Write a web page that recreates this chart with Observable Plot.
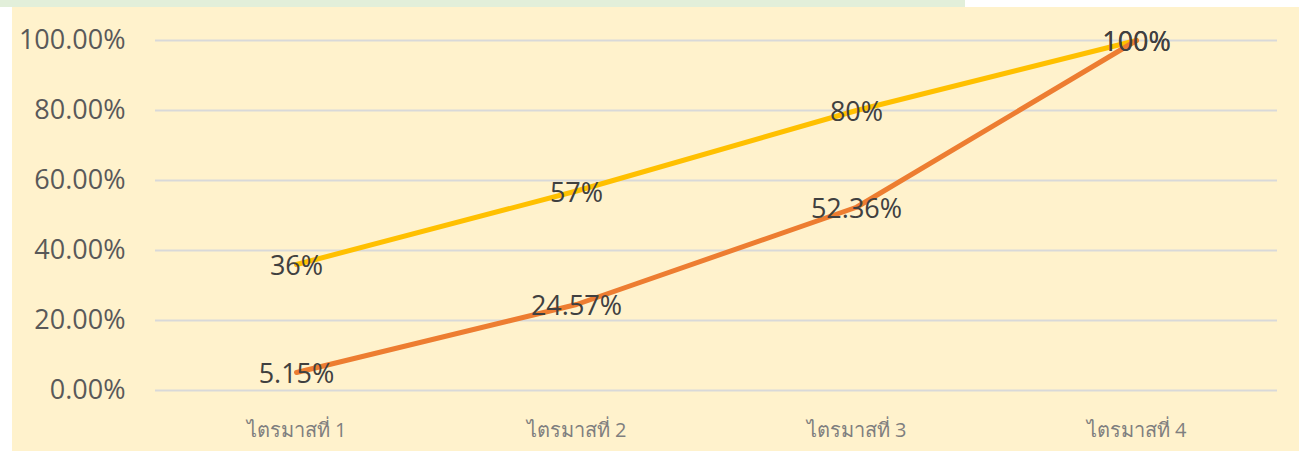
<!DOCTYPE html>
<html>
<head>
<meta charset="utf-8">
<script src="https://cdn.jsdelivr.net/npm/d3@7"></script>
<script src="https://cdn.jsdelivr.net/npm/@observablehq/plot@0.6"></script>
<style>
  html, body { margin: 0; padding: 0; background: #ffffff; width: 1299px; height: 451px; overflow: hidden; position: relative; }
  #strip { position: absolute; left: 0; top: 0; width: 965px; height: 7px; background: #E2EFDA; }
  #chart { position: absolute; left: 12px; top: 7px; }
  #chart svg { background: #FFF2CC; display: block; }
</style>
</head>
<body>
<div id="strip"></div>
<div id="chart"></div>
<script>
const quarters = ["ไตรมาสที่ 1", "ไตรมาสที่ 2", "ไตรมาสที่ 3", "ไตรมาสที่ 4"];
const planValues = [0.36, 0.57, 0.80, 1.00];
const planLabels = ["36%", "57%", "80%", "100%"];
const actualValues = [0.0515, 0.2457, 0.5236, 1.00];
const actualLabels = ["5.15%", "24.57%", "52.36%", "100%"];
const yTicks = [0, 0.2, 0.4, 0.6, 0.8, 1.0];

const plan = quarters.map((q, i) => ({q, v: planValues[i], label: planLabels[i]}));
const actual = quarters.map((q, i) => ({q, v: actualValues[i], label: actualLabels[i]}));

const chart = Plot.plot({
  width: 1287,
  height: 444,
  marginTop: 33,
  marginBottom: 61,
  marginLeft: 143,
  marginRight: 22,
  style: {background: "#FFF2CC", fontFamily: "'Open Sans', 'Noto Sans', 'DejaVu Sans', sans-serif"},
  x: {type: "point", domain: quarters, padding: 0.5, label: null},
  y: {domain: [0, 1], label: null},
  marks: [
    Plot.ruleY(yTicks, {stroke: "#D9D9D9", strokeWidth: 2}),
    Plot.axisY({ticks: yTicks, tickFormat: d3.format(".2%"), tickSize: 0, tickPadding: 30, fontSize: 27, fill: "#595959", label: null}),
    Plot.axisX({tickSize: 0, tickPadding: 32, fontSize: 20, fill: "#7F7F7F", label: null}),
    Plot.line(plan, {x: "q", y: "v", stroke: "#FFC000", strokeWidth: 5}),
    Plot.line(actual, {x: "q", y: "v", stroke: "#ED7D31", strokeWidth: 5}),
    Plot.text(plan, {x: "q", y: "v", text: "label", fill: "#404040", fontSize: 27, dy: 2}),
    Plot.text(actual, {x: "q", y: "v", text: "label", fill: "#404040", fontSize: 27, dy: 2})
  ]
});
document.getElementById("chart").appendChild(chart);
</script>
</body>
</html>
